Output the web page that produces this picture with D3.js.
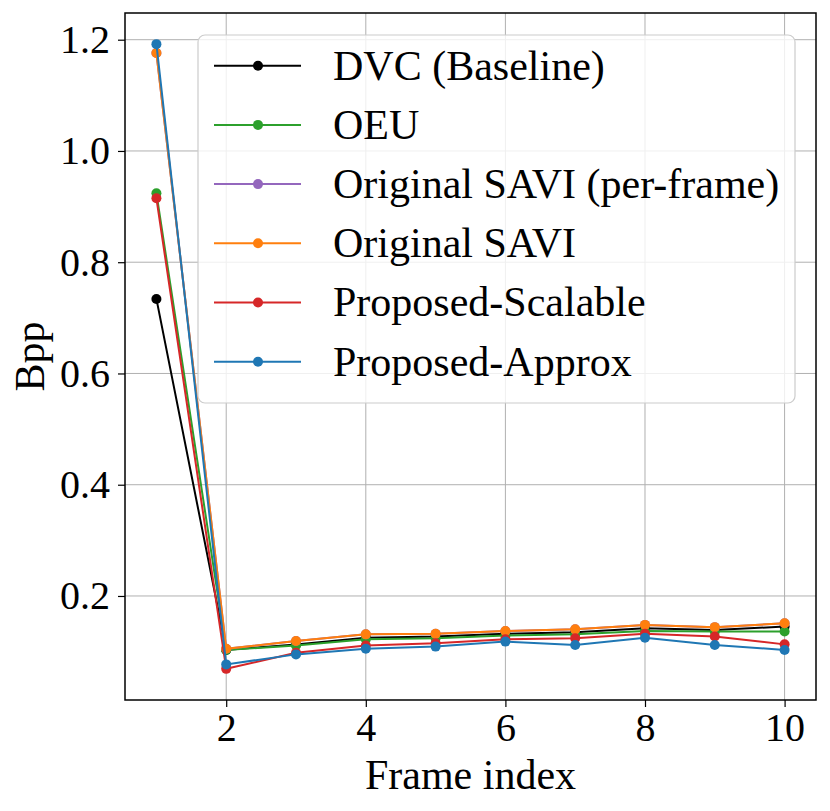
<!DOCTYPE html>
<html>
<head>
<meta charset="utf-8">
<script src="https://cdn.jsdelivr.net/npm/d3@7"></script>
<style>
    body { margin: 0; background: #fff; }
    text { font-family: "Liberation Serif", "Times New Roman", serif; }
    .grid line { stroke: #b0b0b0; stroke-width: 1; }
    .line { fill: none; stroke-width: 2; }
</style>
</head>
<body>
<script>
// data
var frames = [1, 2, 3, 4, 5, 6, 7, 8, 9, 10];
var dvc       = [0.734, 0.103, 0.113, 0.125, 0.127, 0.132, 0.135, 0.142, 0.139, 0.145];
var oeu       = [0.924, 0.103, 0.111, 0.122, 0.124, 0.129, 0.131, 0.137, 0.136, 0.136];
var saviFrame = [1.176, 0.105, 0.119, 0.131, 0.132, 0.137, 0.140, 0.148, 0.144, 0.151];
var savi      = [1.176, 0.105, 0.119, 0.131, 0.132, 0.137, 0.140, 0.148, 0.144, 0.151];
var scalable  = [0.915, 0.069, 0.098, 0.111, 0.115, 0.122, 0.124, 0.132, 0.127, 0.113];
var approx    = [1.192, 0.077, 0.095, 0.105, 0.109, 0.118, 0.112, 0.125, 0.112, 0.103];

var seriesNames = ["DVC (Baseline)", "OEU", "Original SAVI (per-frame)", "Original SAVI", "Proposed-Scalable", "Proposed-Approx"];
var seriesColors = ["#000000", "#2ca02c", "#9467bd", "#ff7f0e", "#d62728", "#1f77b4"];
var seriesValues = [dvc, oeu, saviFrame, savi, scalable, approx];

var xTicks = [2, 4, 6, 8, 10];
var yTicks = [0.2, 0.4, 0.6, 0.8, 1.0, 1.2];

// Set the dimensions of the canvas / graph
var W = 830, H = 811;
var margin = {top: 13, right: 14, bottom: 111, left: 125},
    width = W - margin.left - margin.right,
    height = H - margin.top - margin.bottom;

// Set the ranges
var x = d3.scaleLinear().domain([0.55, 10.45]).range([0, width]);
var y = d3.scaleLinear().domain([0.013, 1.248]).range([height, 0]);

var svg = d3.select("body")
    .append("svg")
        .attr("width", W)
        .attr("height", H)
    .append("g")
        .attr("transform", "translate(" + margin.left + "," + margin.top + ")");

// grid lines
svg.append("g").attr("class", "grid")
    .selectAll("line").data(xTicks).enter().append("line")
        .attr("x1", function(d) { return x(d); })
        .attr("x2", function(d) { return x(d); })
        .attr("y1", 0).attr("y2", height);
svg.append("g").attr("class", "grid")
    .selectAll("line").data(yTicks).enter().append("line")
        .attr("y1", function(d) { return y(d); })
        .attr("y2", function(d) { return y(d); })
        .attr("x1", 0).attr("x2", width);

// Define the line
var valueline = d3.line()
    .x(function(d, i) { return x(frames[i]); })
    .y(function(d) { return y(d); });

seriesValues.forEach(function(vals, k) {
    svg.append("path").attr("class", "line")
        .style("stroke", seriesColors[k])
        .attr("d", valueline(vals));
    svg.append("g")
        .selectAll("circle")
        .data(vals)
        .enter()
        .append("circle")
            .attr("cx", function(d, i) { return x(frames[i]); })
            .attr("cy", function(d) { return y(d); })
            .attr("r", 5)
            .style("fill", seriesColors[k]);
});

// axes
var xAxis = d3.axisBottom(x).tickValues(xTicks).tickSize(7).tickPadding(6)
    .tickFormat(d3.format("d"));
var yAxis = d3.axisLeft(y).tickValues(yTicks).tickSize(7).tickPadding(8)
    .tickFormat(d3.format(".1f"));

var gx = svg.append("g").attr("transform", "translate(0," + height + ")").call(xAxis);
var gy = svg.append("g").call(yAxis);
[gx, gy].forEach(function(g) {
    g.select(".domain").remove();
    g.selectAll(".tick line").attr("stroke", "#000").attr("stroke-width", 1.2);
    g.selectAll(".tick text").style("font-size", "40px").attr("fill", "#000");
});

// frame around the plot
svg.append("rect")
    .attr("width", width).attr("height", height)
    .style("fill", "none").style("stroke", "#000").style("stroke-width", 1.5);

svg.append("text")      // text label for the x-axis
    .attr("x", width / 2)
    .attr("y", 789 - margin.top)
    .style("text-anchor", "middle")
    .style("font-size", "42px")
    .text("Frame index");

svg.append("text")      // text label for the y-axis
    .attr("transform", "translate(" + (44 - margin.left) + "," + (height / 2) + ") rotate(-90)")
    .style("text-anchor", "middle")
    .style("font-size", "42px")
    .text("Bpp");

// legend
var legend = svg.append("g").attr("transform", "translate(" + (198 - margin.left) + "," + (35 - margin.top) + ")");
legend.append("rect")
    .attr("width", 597).attr("height", 368)
    .attr("rx", 7).attr("ry", 7)
    .style("fill", "#fff").style("fill-opacity", 0.8)
    .style("stroke", "#cccccc").style("stroke-width", 1.2);

var rows = legend.selectAll("g.row").data(seriesNames).enter().append("g")
    .attr("transform", function(d, i) { return "translate(0," + (30.7 + i * 59.2) + ")"; });
rows.append("line")
    .attr("x1", 16).attr("x2", 103)
    .style("stroke", function(d, i) { return seriesColors[i]; })
    .style("stroke-width", 2);
rows.append("circle")
    .attr("cx", 60).attr("r", 5)
    .style("fill", function(d, i) { return seriesColors[i]; });
rows.append("text")
    .attr("x", 135).attr("dy", "0.33em")
    .style("font-size", "42px")
    .text(function(d) { return d; });
</script>
</body>
</html>
